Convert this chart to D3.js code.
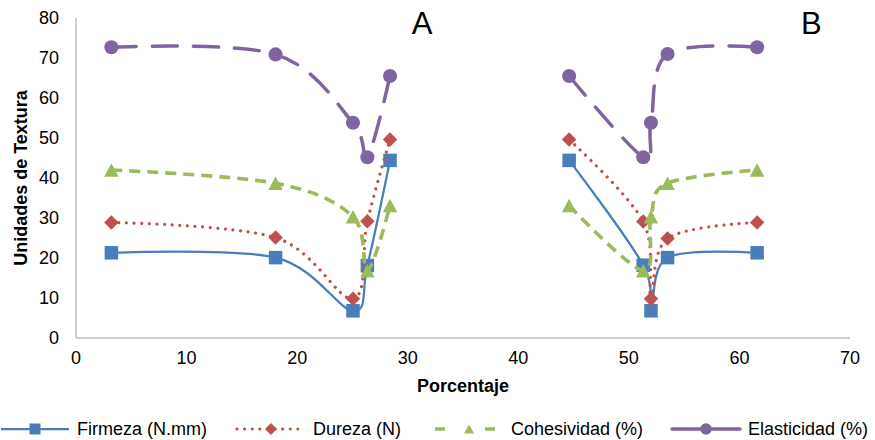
<!DOCTYPE html>
<html><head><meta charset="utf-8">
<script src="https://cdn.jsdelivr.net/npm/d3@7"></script>
<style>body{margin:0;background:#fff;} svg{display:block;font-family:"Liberation Sans",Arial,sans-serif;}</style>
</head><body><svg id="c" width="875" height="440"></svg>
<script>
// ---- data ----
const xA = [3.2, 18.05, 25.05, 26.35, 28.4];
const xB = [44.6, 51.3, 52.0, 53.5, 61.6];
const firmezaA = [21.3, 20.1, 6.8, 18.1, 44.4];
const firmezaB = [44.4, 18.2, 6.8, 20.1, 21.3];
const durezaA = [28.9, 25.1, 9.8, 29.2, 49.6];
const durezaB = [49.6, 29.1, 9.8, 24.9, 28.9];
const cohesividadA = [42.0, 38.7, 30.3, 16.8, 33.1];
const cohesividadB = [33.1, 16.8, 30.3, 38.7, 42.0];
const elasticidadA = [72.7, 70.9, 53.8, 45.2, 65.5];
const elasticidadB = [65.5, 45.2, 53.8, 71.0, 72.7];
const seriesNames = ["Firmeza (N.mm)", "Dureza (N)", "Cohesividad (%)", "Elasticidad (%)"];
const panelLabels = ["A", "B"];
const panelLabelX = [31.3, 66.5];
const xTicks = [0, 10, 20, 30, 40, 50, 60, 70];
const yTicks = [0, 10, 20, 30, 40, 50, 60, 70, 80];
const xTitle = "Porcentaje";
const yTitle = "Unidades de Textura";

// ---- layout ----
const svg = d3.select("#c");
const x = d3.scaleLinear().domain([0, 70]).range([76, 850]);
const y = d3.scaleLinear().domain([0, 80]).range([338, 18]);
const axisColor = "#BFBFBF";

const styles = [
  {color: "#4A7EBB", width: 2.25, dash: null, cap: "butt", marker: "square", legendDash: null},
  {color: "#C0504D", width: 3.2, dash: "0.01,7.6", cap: "round", marker: "diamond", legendDash: "0.01,7.6"},
  {color: "#9BBB59", width: 3.6, dash: "11,7", cap: "butt", marker: "triangle", legendDash: "10,40"},
  {color: "#8064A2", width: 3.5, dash: "25,16", cap: "round", marker: "circle", legendDash: "27,0"}
];
const seriesData = [
  [firmezaA, firmezaB], [durezaA, durezaB], [cohesividadA, cohesividadB], [elasticidadA, elasticidadB]
];

// axes
svg.append("line").attr("x1", x(0)).attr("x2", x(0)).attr("y1", y(80)).attr("y2", y(0))
  .attr("stroke", axisColor).attr("stroke-width", 1.5);
svg.append("line").attr("x1", x(0)).attr("x2", x(70)).attr("y1", y(0)).attr("y2", y(0))
  .attr("stroke", axisColor).attr("stroke-width", 1.5);

svg.selectAll(".yt").data(yTicks).enter().append("text")
  .attr("x", 59).attr("y", d => y(d)).attr("dy", "0.35em").attr("text-anchor", "end")
  .attr("font-size", 18).attr("fill", "#000").text(d => d);
svg.selectAll(".xt").data(xTicks).enter().append("text")
  .attr("x", d => x(d)).attr("y", 364).attr("text-anchor", "middle")
  .attr("font-size", 18).attr("fill", "#000").text(d => d);

svg.append("text").attr("x", x(35)).attr("y", 392).attr("text-anchor", "middle")
  .attr("font-size", 18).attr("font-weight", "bold").text(xTitle);
svg.append("text").attr("transform", "translate(27,178) rotate(-90)").attr("text-anchor", "middle")
  .attr("font-size", 18).attr("font-weight", "bold").text(yTitle);

// panel labels
svg.selectAll(".pl").data(panelLabels).enter().append("text")
  .attr("x", (d, i) => x(panelLabelX[i])).attr("y", 34).attr("text-anchor", "middle")
  .attr("font-size", 31).attr("fill", "#000").text(d => d);

// markers
function drawMarker(g, type, cx, cy, color, s) {
  if (type === "square") {
    g.append("rect").attr("x", cx - s / 2).attr("y", cy - s / 2).attr("width", s).attr("height", s).attr("fill", color);
  } else if (type === "diamond") {
    const h = s / 2 + 0.5;
    g.append("path").attr("d", `M${cx},${cy - h}L${cx + h},${cy}L${cx},${cy + h}L${cx - h},${cy}Z`).attr("fill", color);
  } else if (type === "triangle") {
    const w = s + 1, hh = s;
    g.append("path").attr("d", `M${cx},${cy - hh / 2}L${cx + w / 2},${cy + hh / 2}L${cx - w / 2},${cy + hh / 2}Z`).attr("fill", color);
  } else {
    g.append("circle").attr("cx", cx).attr("cy", cy).attr("r", s / 2 + 0.3).attr("fill", color);
  }
}

const line = d3.line().x(d => x(d[0])).y(d => y(d[1])).curve(d3.curveCatmullRom.alpha(0));
const xs = [xA, xB];

seriesData.forEach((pair, si) => {
  const st = styles[si];
  const g = svg.append("g");
  pair.forEach((vals, pi) => {
    const pts = vals.map((v, i) => [xs[pi][i], v]);
    g.append("path").attr("d", line(pts)).attr("fill", "none")
      .attr("stroke", st.color).attr("stroke-width", st.width)
      .attr("stroke-dasharray", st.dash).attr("stroke-linecap", st.cap).attr("stroke-linejoin", "round");
  });
  pair.forEach((vals, pi) => {
    vals.forEach((v, i) => drawMarker(g, st.marker, x(xs[pi][i]), y(v), st.color, 13.5));
  });
});

// legend
const legendX = [1, 237, 435, 672];
const ly = 429;
seriesNames.forEach((name, i) => {
  const st = styles[i];
  const g = svg.append("g");
  const x0 = legendX[i];
  g.append("line").attr("x1", x0).attr("x2", x0 + 68).attr("y1", ly).attr("y2", ly)
    .attr("stroke", st.color).attr("stroke-width", st.width)
    .attr("stroke-dasharray", st.legendDash).attr("stroke-linecap", st.cap);
  drawMarker(g, st.marker, x0 + 34, ly, st.color, st.marker === "triangle" ? 9 : 11);
  g.append("text").attr("x", x0 + 76).attr("y", ly).attr("dy", "0.35em")
    .attr("font-size", 18).attr("fill", "#000").text(name);
});
</script>
</body></html>
